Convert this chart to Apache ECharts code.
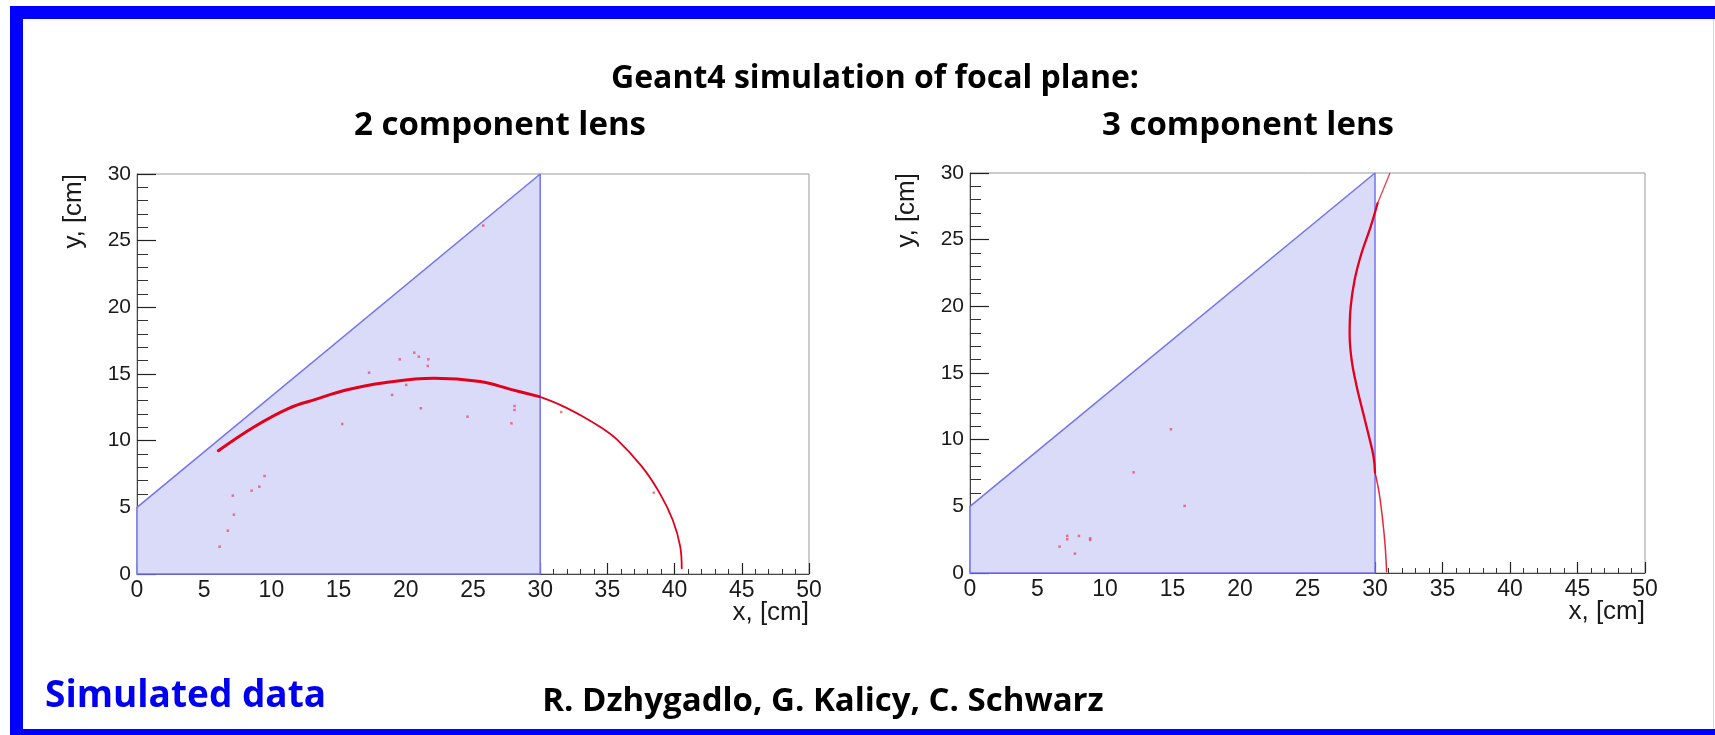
<!DOCTYPE html>
<html>
<head>
<meta charset="utf-8">
<script src="https://cdn.jsdelivr.net/npm/echarts@6/dist/echarts.min.js"></script>
<style>
  html, body { margin: 0; padding: 0; background: #ffffff; }
  #main { width: 1715px; height: 735px; }
</style>
</head>
<body>
<div id="main"></div>
<script>
// ---- Texts ----
const headline = 'Geant4 simulation of focal plane:';
const panelTitles = ['2 component lens', '3 component lens'];
const tagText = 'Simulated data';
const authorsText = 'R. Dzhygadlo, G. Kalicy, C. Schwarz';
const xName = 'x, [cm]';
const yName = 'y, [cm]';

// ---- Axis ranges (cm) ----
const xRange = [0, 50];
const yRange = [0, 30];
const tickStep = 5;

// ---- Sensor region outline: (0,0) -> (0,5) -> (30,30) -> (30,0) -> (0,0) ----
const regionX = [0, 0, 30, 30, 0];
const regionY = [0, 5, 30, 0, 0];

// ---- 2 component lens: focal curve ----
const lens2InnerX = [6.05, 8.73, 11.29, 13.28, 15.56, 18.41, 22.1, 25.53, 27.8, 29.94];
const lens2InnerY = [9.25, 11.05, 12.43, 13.1, 13.8, 14.35, 14.68, 14.43, 13.85, 13.3];
const lens2OuterX = [29.94, 31.56, 33.2, 34.5, 35.7, 37.57, 38.9, 39.86, 40.42, 40.53];
const lens2OuterY = [13.3, 12.65, 11.8, 11.0, 10.1, 8.05, 6.05, 4.05, 2.05, 0.43];
// scattered hits
const lens2StrayX = [20.63, 19.55, 20.97, 21.68, 21.63, 17.27, 20.03, 18.98, 21.12, 24.59, 28.09, 28.09,
                     27.86, 15.27, 25.76, 31.56, 9.49, 9.1, 8.53, 7.13, 7.21, 6.76, 6.15, 38.45];
const lens2StrayY = [16.6, 16.1, 16.3, 16.1, 15.6, 15.1, 14.18, 13.43, 12.43, 11.8, 12.6, 12.3,
                     11.3, 11.25, 26.13, 12.15, 7.35, 6.55, 6.25, 5.88, 4.45, 3.25, 2.05, 6.1];

// ---- 3 component lens: focal curve ----
const lens3TopX = [31.1, 30.7, 30.19];
const lens3TopY = [29.98, 28.98, 27.73];
const lens3MainX = [30.19, 29.68, 29.0, 28.49, 28.2, 28.12, 28.26, 28.63, 29.11, 29.6, 29.9, 30.0];
const lens3MainY = [27.73, 25.98, 23.98, 21.98, 19.98, 17.98, 16.05, 14.05, 12.05, 10.05, 8.68, 7.55];
const lens3BottomX = [30.0, 30.3, 30.56, 30.75, 30.86];
const lens3BottomY = [7.55, 6.05, 4.05, 2.05, 0.1];
// scattered hits
const lens3StrayX = [14.88, 12.12, 15.9, 6.64, 7.2, 7.2, 8.07, 7.77, 8.9, 8.9];
const lens3StrayY = [10.78, 7.55, 5.03, 1.98, 2.78, 2.53, 2.78, 1.45, 2.48, 2.6];

// ---- Styling ----
const RED = '#e3001b';
const REGION_FILL = '#dadaf9';
const REGION_EDGE = '#7474f0';
const FRAME_BLUE = '#0000ff';
const AXIS_FONT = '"Liberation Sans", Arial, Helvetica, sans-serif';
const TITLE_FONT = '"Open Sans", "Noto Sans", sans-serif';

const zip = (xs, ys) => xs.map((x, i) => [x, ys[i]]);

function makeXAxis(gridIndex) {
  return {
    type: 'value', gridIndex, min: xRange[0], max: xRange[1], interval: tickStep,
    axisLine: { show: true, onZero: false, lineStyle: { color: '#444', width: 1 } },
    axisTick: { show: true, inside: true, length: 11, lineStyle: { color: '#222', width: 1.2 } },
    minorTick: { show: true, splitNumber: 5, length: 5, lineStyle: { color: '#333', width: 1 } },
    splitLine: { show: false },
    axisLabel: { fontFamily: AXIS_FONT, fontSize: 23, color: '#1a1a1a', margin: 5,
                 showMinLabel: true, showMaxLabel: true },
    name: xName, nameLocation: 'end', nameGap: 0, nameMoveOverlap: false,
    nameTextStyle: { fontFamily: AXIS_FONT, fontSize: 26, color: '#1a1a1a',
                     align: 'right', verticalAlign: 'top', padding: [26, 0, 0, 0] }
  };
}

function makeYAxis(gridIndex) {
  return {
    type: 'value', gridIndex, min: yRange[0], max: yRange[1], interval: tickStep,
    axisLine: { show: true, onZero: false, lineStyle: { color: '#444', width: 1 } },
    axisTick: { show: true, inside: true, length: 19, lineStyle: { color: '#222', width: 1.2 } },
    minorTick: { show: true, splitNumber: 5, length: 11, lineStyle: { color: '#333', width: 1 } },
    splitLine: { show: false },
    axisLabel: { fontFamily: AXIS_FONT, fontSize: 21, color: '#1a1a1a', margin: 6,
                 showMinLabel: true, showMaxLabel: true },
    name: yName, nameLocation: 'end', nameGap: 0, nameRotate: 90, nameMoveOverlap: false,
    nameTextStyle: { fontFamily: AXIS_FONT, fontSize: 26, color: '#1a1a1a',
                     align: 'right', verticalAlign: 'bottom', padding: [0, 0, 50, 0] }
  };
}

function regionSeries(idx) {
  return {
    type: 'line', xAxisIndex: idx, yAxisIndex: idx, data: zip(regionX, regionY),
    symbol: 'none', smooth: false, clip: false, z: 3,
    lineStyle: { color: REGION_EDGE, width: 1.5 },
    areaStyle: { color: REGION_FILL, opacity: 1 }
  };
}

function curveSeries(idx, xs, ys, width, color) {
  return {
    type: 'line', xAxisIndex: idx, yAxisIndex: idx, data: zip(xs, ys),
    symbol: 'none', smooth: 0.4, z: 5,
    lineStyle: { color: color, width: width, cap: 'round', join: 'round' }
  };
}

function straySeries(idx, xs, ys) {
  return {
    type: 'scatter', xAxisIndex: idx, yAxisIndex: idx, data: zip(xs, ys),
    symbol: 'rect', symbolSize: 2.5, z: 6,
    itemStyle: { color: 'rgba(232, 40, 70, 0.75)' }
  };
}

const chart = echarts.init(document.getElementById('main'), null, { renderer: 'canvas' });

const option = {
  animation: false,
  backgroundColor: '#ffffff',
  grid: [
    { left: 137, top: 174, width: 672, height: 400, show: true, borderColor: '#9a9a9a', borderWidth: 1, backgroundColor: 'transparent' },
    { left: 970, top: 173, width: 675, height: 400, show: true, borderColor: '#9a9a9a', borderWidth: 1, backgroundColor: 'transparent' }
  ],
  xAxis: [makeXAxis(0), makeXAxis(1)],
  yAxis: [makeYAxis(0), makeYAxis(1)],
  series: [
    regionSeries(0),
    curveSeries(0, lens2InnerX, lens2InnerY, 3, RED),
    curveSeries(0, lens2OuterX, lens2OuterY, 1.8, RED),
    straySeries(0, lens2StrayX, lens2StrayY),

    regionSeries(1),
    curveSeries(1, lens3TopX, lens3TopY, 1.3, 'rgba(227,0,27,0.75)'),
    curveSeries(1, lens3MainX, lens3MainY, 2.3, RED),
    curveSeries(1, lens3BottomX, lens3BottomY, 1.5, 'rgba(227,0,27,0.85)'),
    straySeries(1, lens3StrayX, lens3StrayY)
  ],
  graphic: [
    // slide frame
    { type: 'rect', shape: { x: 10, y: 6, width: 1705, height: 13 }, style: { fill: FRAME_BLUE }, silent: true },
    { type: 'rect', shape: { x: 10, y: 6, width: 13, height: 729 }, style: { fill: FRAME_BLUE }, silent: true },
    { type: 'rect', shape: { x: 10, y: 729, width: 1705, height: 6 }, style: { fill: FRAME_BLUE }, silent: true },
    { type: 'rect', shape: { x: 1713, y: 19, width: 1, height: 710 }, style: { fill: '#d8d0ff' }, silent: true },
    // headings
    { type: 'text', x: 875, y: 79, silent: true,
      style: { text: headline, fill: '#000', fontFamily: TITLE_FONT, fontWeight: 'bold', fontSize: 32,
               align: 'center', verticalAlign: 'middle' } },
    { type: 'text', x: 500, y: 126, silent: true,
      style: { text: panelTitles[0], fill: '#000', fontFamily: TITLE_FONT, fontWeight: 'bold', fontSize: 33,
               align: 'center', verticalAlign: 'middle' } },
    { type: 'text', x: 1248, y: 126, silent: true,
      style: { text: panelTitles[1], fill: '#000', fontFamily: TITLE_FONT, fontWeight: 'bold', fontSize: 33,
               align: 'center', verticalAlign: 'middle' } },
    // footer
    { type: 'text', x: 45, y: 696, silent: true,
      style: { text: tagText, fill: '#0000f0', fontFamily: TITLE_FONT, fontWeight: 'bold', fontSize: 37,
               align: 'left', verticalAlign: 'middle' } },
    { type: 'text', x: 823, y: 702, silent: true,
      style: { text: authorsText, fill: '#000', fontFamily: TITLE_FONT, fontWeight: 'bold', fontSize: 33,
               align: 'center', verticalAlign: 'middle' } }
  ]
};

chart.setOption(option);
</script>
</body>
</html>
